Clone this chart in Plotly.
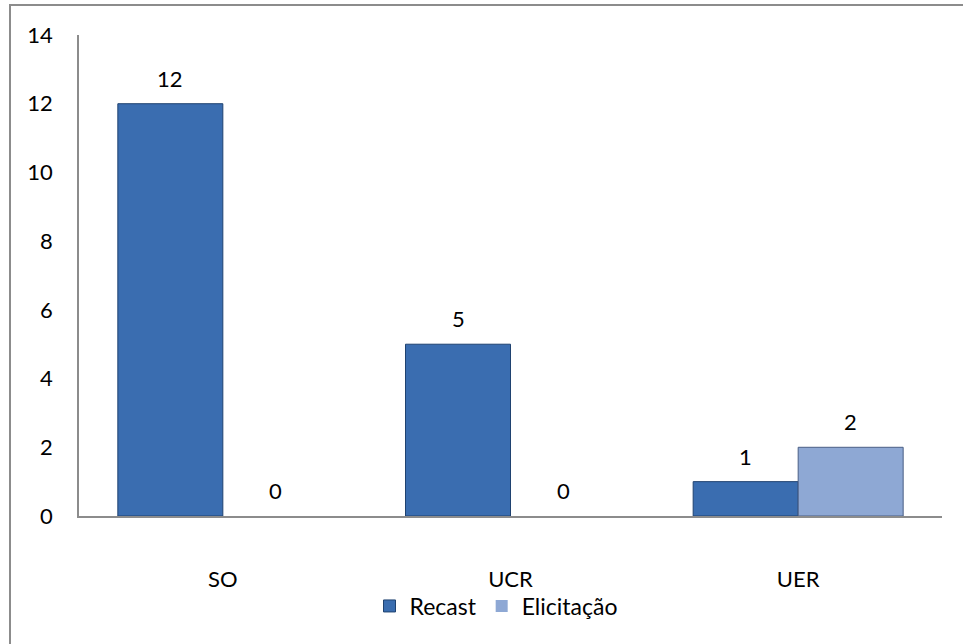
import plotly.graph_objects as go

categories = ["SO", "UCR", "UER"]
recast = [12, 5, 1]
elicitacao = [0, 0, 2]
series_names = ["Recast", "Elicitação"]
y_ticks = [0, 2, 4, 6, 8, 10, 12, 14]

FONT = "Lato, Open Sans, sans-serif"
FS = 22
BARGAP = 0.27

fig = go.Figure()
fig.add_trace(go.Bar(
    x=categories, y=recast, name=series_names[0],
    marker=dict(color="#3A6DB0",
                line=dict(color="#1F4270", width=[1 if v else 0 for v in recast])),
))
fig.add_trace(go.Bar(
    x=categories, y=elicitacao, name=series_names[1],
    marker=dict(color="#8EA8D4",
                line=dict(color="#4A5F85", width=[1 if v else 0 for v in elicitacao])),
))

# value labels above each bar
half = (1 - BARGAP) / 4
for sign, vals in ((-1, recast), (1, elicitacao)):
    for i, v in enumerate(vals):
        fig.add_annotation(x=i + sign * half, y=v, text=str(v), showarrow=False,
                           yanchor="bottom", yshift=10,
                           font=dict(size=FS, family=FONT, color="#000000"))

W, H = 963, 644
l, r, t, b = 79, 21, 35, 128
pw, ph = W - l - r, H - t - b

def px(x):
    return (x - l) / pw

def py(y):
    return (H - b - y) / ph

fig.add_shape(type="rect", xref="paper", yref="paper",
              x0=px(10), x1=px(975), y0=py(5), y1=py(660),
              line=dict(color="#8C8C8C", width=2), layer="below")

fig.update_layout(
    width=W, height=H,
    margin=dict(l=l, r=r, t=t, b=b),
    paper_bgcolor="white", plot_bgcolor="white",
    barmode="group", bargap=BARGAP, bargroupgap=0,
    font=dict(family=FONT, size=FS, color="#000000"),
    showlegend=True,
    legend=dict(orientation="h", x=px(496), xanchor="center", y=py(606), yanchor="middle",
                font=dict(size=23, family=FONT), bgcolor="rgba(0,0,0,0)",
                itemwidth=30, traceorder="normal"),
    xaxis=dict(showline=True, linecolor="#8C8C8C", linewidth=1.5, showgrid=False,
               ticks="", ticklabelstandoff=43, tickfont=dict(size=FS), zeroline=False),
    yaxis=dict(range=[0, 14], tickvals=y_ticks, showline=True, linecolor="#8C8C8C",
               linewidth=1.5, showgrid=False, ticks="", ticklabelstandoff=20,
               tickfont=dict(size=FS), zeroline=False),
)

fig.write_html("out.html")
